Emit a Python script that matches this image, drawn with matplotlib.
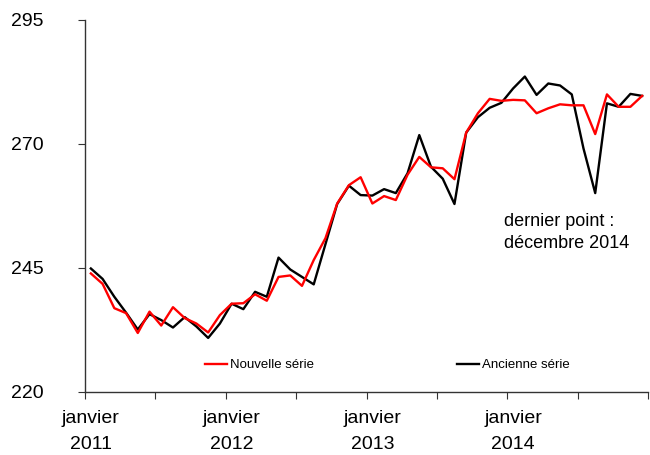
import matplotlib
matplotlib.use("Agg")
import matplotlib.pyplot as plt
import numpy as np

plt.rcParams['font.family'] = ['Liberation Sans', 'DejaVu Sans']

nouvelle = [243.9, 241.8, 236.9, 235.9, 231.9, 236.2, 233.4, 237.1, 234.9, 233.8, 232.0, 235.5,
            237.8, 237.9, 239.7, 238.4, 243.2, 243.5, 241.4, 246.6, 251.0, 258.0, 261.7, 263.3,
            258.0, 259.5, 258.7, 263.8, 267.4, 265.3, 265.1, 262.9, 272.3, 276.2, 279.1, 278.7,
            278.9, 278.8, 276.2, 277.2, 278.0, 277.8, 277.8, 272.0, 280.0, 277.5, 277.5, 279.7]
ancienne = [244.9, 242.8, 239.2, 236.0, 232.6, 235.7, 234.5, 233.0, 235.1, 233.2, 230.9, 233.8,
            237.8, 236.7, 240.2, 239.2, 247.1, 244.7, 243.2, 241.7, 249.8, 257.9, 261.6, 259.7,
            259.6, 260.9, 260.1, 264.1, 271.8, 265.4, 263.0, 257.9, 272.3, 275.4, 277.3, 278.3,
            281.2, 283.6, 279.9, 282.2, 281.8, 280.0, 269.1, 260.1, 278.2, 277.5, 280.1, 279.7]
year_labels = ["janvier\n2011", "janvier\n2012", "janvier\n2013", "janvier\n2014"]
y_ticks = [220, 245, 270, 295]

n = len(nouvelle)
x = np.arange(n) + 0.5

fig = plt.figure(figsize=(6.5, 4.55), dpi=100)
ax = fig.add_axes([85/650, 1-392/455, 563/650, 372/455])

l_red, = ax.plot(x, nouvelle, color='#ff0000', lw=1.7, zorder=3)
l_blk, = ax.plot(x, ancienne, color='black', lw=1.7, zorder=2)

ax.set_xlim(0, n)
ax.set_ylim(220, 295)
for s in ['top', 'right']:
    ax.spines[s].set_visible(False)
for s in ['left', 'bottom']:
    ax.spines[s].set_color('#333333')
    ax.spines[s].set_linewidth(1.0)

ax.set_yticks(y_ticks)
ax.set_yticklabels([str(v) for v in y_ticks], fontsize=14)
ax.tick_params(axis='y', direction='out', length=5, pad=25, color='#333333')

ax.set_xticks(np.arange(0, n + 1, 6))
ax.set_xticklabels([])
ax.tick_params(axis='x', which='major', direction='out', length=5, color='#333333')
ax.set_xticks(np.arange(0, n, 12) + 0.5, minor=True)
ax.set_xticklabels(year_labels, minor=True, fontsize=14, linespacing=1.65)
ax.tick_params(axis='x', which='minor', length=0, pad=13)

leg1 = ax.legend([l_red], ['Nouvelle série'], loc='center left',
                 bbox_to_anchor=(205/650, 1-365/455), bbox_transform=fig.transFigure,
                 frameon=False, borderpad=0, borderaxespad=0, handlelength=1.7,
                 handletextpad=0.2, fontsize=9.5)
ax.add_artist(leg1)
ax.legend([l_blk], ['Ancienne série'], loc='center left',
          bbox_to_anchor=(457/650, 1-365/455), bbox_transform=fig.transFigure,
          frameon=False, borderpad=0, borderaxespad=0, handlelength=1.7,
          handletextpad=0.2, fontsize=9.5)

fig.text(504/650, 1-213/455, "dernier point :\ndécembre 2014", fontsize=13,
         va='top', ha='left', linespacing=1.4)

fig.savefig("out.png", dpi=100)
